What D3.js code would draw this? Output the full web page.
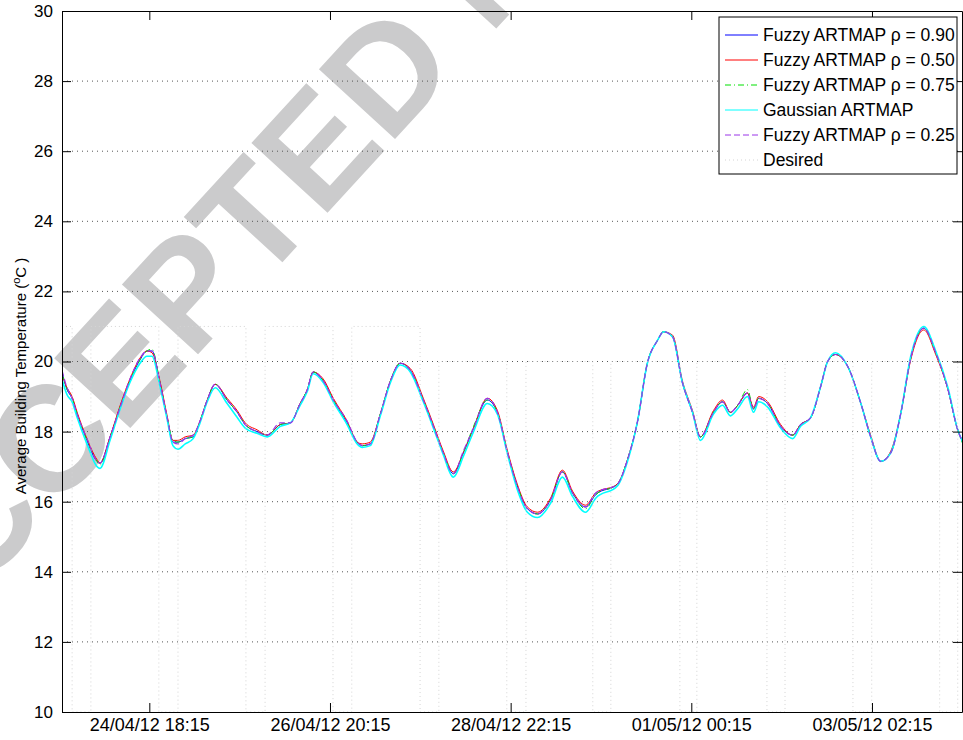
<!DOCTYPE html>
<html>
<head>
<meta charset="utf-8">
<script src="https://cdn.jsdelivr.net/npm/d3@7"></script>
<style>
  body { margin: 0; background: #fff; }
  svg text { font-family: "Liberation Sans", Arial, Helvetica, sans-serif; }
</style>
</head>
<body>
<svg id="chart" width="963" height="740"></svg>
<script>
// hours since the start of the record (23/04/12 18:05)
var hours = [0, 1.4, 2.8, 4.2, 6.9, 9.7, 10.5, 13.3, 16.1, 18.8,
    21.6, 23.5, 24.9, 27.1, 29.1, 30.7, 32.1, 34.1, 36.3, 38.2,
    40.2, 42.4, 45.7, 48.5, 50.7, 54.0, 56.8, 60.4, 63.2, 65.9,
    67.9, 69.5, 72.3, 75.1, 78.9, 81.7, 83.1, 85.3, 88.1, 90.9,
    93.6, 96.4, 100.0, 102.8, 105.5, 108.3, 111.1, 113.9, 117.7, 120.5,
    123.3, 126.0, 128.8, 131.6, 135.2, 138.5, 141.3, 144.9, 147.7, 153.7,
    156.5, 159.3, 162.0, 164.8, 166.5, 169.0, 171.7, 174.5, 176.7, 180.3,
    182.8, 185.0, 187.0, 189.7, 191.4, 192.8, 195.3, 198.9, 202.2, 204.4,
    207.2, 210.0, 211.9, 214.1, 217.5, 221.1, 223.8, 226.6, 229.4, 232.1,
    234.9, 238.5, 241.8, 245.2, 247.9, 249.3];

var fuzzy090 = [19.7, 19.2, 18.95, 18.5, 17.75, 17.15, 17.1, 17.85, 18.7, 19.45,
    20.05, 20.3, 20.3, 19.4, 18.4, 17.7, 17.7, 17.8, 17.85, 18.3,
    18.9, 19.35, 18.9, 18.55, 18.2, 18.0, 17.9, 18.2, 18.25, 18.8,
    19.2, 19.7, 19.45, 18.9, 18.25, 17.7, 17.6, 17.65, 18.5, 19.45,
    19.95, 19.75, 18.9, 18.15, 17.4, 16.8, 17.4, 18.1, 18.9, 18.55,
    17.4, 16.45, 15.8, 15.65, 16.05, 16.85, 16.25, 15.85, 16.2, 16.5,
    17.2, 18.3, 19.95, 20.6, 20.85, 20.7, 19.4, 18.55, 17.85, 18.55,
    18.85, 18.55, 18.75, 19.1, 18.65, 18.95, 18.8, 18.15, 17.9, 18.2,
    18.4, 19.3, 20.0, 20.2, 19.85, 18.8, 17.85, 17.15, 17.4, 18.5,
    20.1, 20.95, 20.25, 19.2, 18.05, 17.7];

var fuzzy050 = [19.6, 19.25, 19.0, 18.55, 17.8, 17.2, 17.1, 17.85, 18.75, 19.5,
    20.1, 20.3, 20.25, 19.45, 18.45, 17.75, 17.75, 17.85, 17.9, 18.3,
    18.9, 19.35, 18.95, 18.6, 18.25, 18.05, 17.9, 18.2, 18.25, 18.8,
    19.2, 19.7, 19.5, 18.95, 18.3, 17.7, 17.65, 17.7, 18.5, 19.45,
    19.95, 19.8, 18.95, 18.2, 17.45, 16.85, 17.4, 18.1, 18.95, 18.6,
    17.45, 16.5, 15.85, 15.7, 16.1, 16.9, 16.3, 15.9, 16.25, 16.5,
    17.2, 18.3, 19.95, 20.6, 20.85, 20.75, 19.45, 18.6, 17.85, 18.6,
    18.9, 18.55, 18.75, 19.1, 18.7, 19.0, 18.85, 18.2, 17.9, 18.2,
    18.4, 19.3, 20.0, 20.2, 19.85, 18.8, 17.9, 17.15, 17.45, 18.5,
    20.05, 20.9, 20.2, 19.2, 18.05, 17.7];

var fuzzy075 = [19.65, 19.2, 18.95, 18.5, 17.75, 17.15, 17.05, 17.8, 18.7, 19.45,
    20.05, 20.3, 20.35, 19.4, 18.4, 17.75, 17.7, 17.8, 17.85, 18.3,
    18.9, 19.35, 18.9, 18.55, 18.2, 18.0, 17.9, 18.2, 18.25, 18.8,
    19.2, 19.7, 19.45, 18.9, 18.25, 17.7, 17.6, 17.65, 18.5, 19.45,
    19.95, 19.75, 18.9, 18.15, 17.4, 16.8, 17.4, 18.15, 18.9, 18.55,
    17.4, 16.45, 15.8, 15.65, 16.05, 16.85, 16.25, 15.8, 16.2, 16.5,
    17.2, 18.3, 19.95, 20.6, 20.85, 20.7, 19.4, 18.55, 17.85, 18.55,
    18.85, 18.55, 18.75, 19.2, 18.65, 18.95, 18.8, 18.15, 17.9, 18.2,
    18.4, 19.3, 20.0, 20.2, 19.85, 18.8, 17.85, 17.15, 17.4, 18.5,
    20.1, 20.95, 20.25, 19.2, 18.05, 17.65];

var gaussian = [19.5, 19.05, 18.85, 18.4, 17.65, 17.0, 16.95, 17.75, 18.65, 19.4,
    19.95, 20.15, 20.15, 19.3, 18.35, 17.6, 17.5, 17.65, 17.8, 18.25,
    18.85, 19.25, 18.8, 18.4, 18.1, 17.95, 17.85, 18.15, 18.25, 18.75,
    19.15, 19.65, 19.4, 18.85, 18.2, 17.65, 17.55, 17.6, 18.45, 19.4,
    19.9, 19.7, 18.85, 18.1, 17.35, 16.7, 17.3, 18.0, 18.8, 18.5,
    17.35, 16.35, 15.7, 15.55, 15.95, 16.7, 16.15, 15.7, 16.1, 16.45,
    17.15, 18.3, 19.95, 20.6, 20.85, 20.7, 19.4, 18.55, 17.75, 18.5,
    18.75, 18.45, 18.65, 19.0, 18.55, 18.85, 18.7, 18.1, 17.8, 18.15,
    18.4, 19.3, 20.0, 20.25, 19.85, 18.8, 17.85, 17.15, 17.4, 18.5,
    20.15, 21.0, 20.3, 19.25, 18.05, 17.7];

var fuzzy025 = [19.75, 19.25, 18.95, 18.5, 17.8, 17.15, 17.1, 17.85, 18.7, 19.5,
    20.1, 20.3, 20.3, 19.4, 18.4, 17.7, 17.65, 17.8, 17.9, 18.3,
    18.9, 19.35, 18.9, 18.55, 18.2, 18.0, 17.9, 18.25, 18.25, 18.8,
    19.2, 19.7, 19.45, 18.9, 18.3, 17.7, 17.6, 17.65, 18.5, 19.45,
    19.95, 19.75, 18.9, 18.15, 17.4, 16.8, 17.45, 18.1, 18.95, 18.55,
    17.4, 16.45, 15.8, 15.65, 16.05, 16.85, 16.25, 15.85, 16.25, 16.5,
    17.2, 18.3, 19.95, 20.6, 20.85, 20.7, 19.4, 18.55, 17.85, 18.55,
    18.85, 18.55, 18.75, 19.1, 18.65, 18.95, 18.8, 18.15, 17.9, 18.2,
    18.4, 19.3, 20.0, 20.2, 19.85, 18.8, 17.85, 17.15, 17.4, 18.5,
    20.1, 20.95, 20.25, 19.2, 18.05, 17.7];

// desired signal, step changes (hours since start -> temperature)
var desiredHours = [0, 2.8, 8.0, 26.8, 32.1, 50.9, 56.2, 75.0, 80.2, 99.1,
    104.3, 123.1, 128.4, 146.9, 151.9, 171.0, 175.7, 195.1, 200.1, 218.9,
    224.1, 242.9, 247.9, 249.3];
var desiredTemps = [21, 10, 21, 10, 21, 10, 21, 10, 21, 10,
    20, 10, 20, 10, 20, 10, 20, 10, 20, 10,
    20, 10, 20, 20];

var seriesNames = ['Fuzzy ARTMAP \u03C1 = 0.90', 'Fuzzy ARTMAP \u03C1 = 0.50',
    'Fuzzy ARTMAP \u03C1 = 0.75', 'Gaussian ARTMAP', 'Fuzzy ARTMAP \u03C1 = 0.25', 'Desired'];
var yTicks = [10, 12, 14, 16, 18, 20, 22, 24, 26, 28, 30];
var xTickLabels = ['24/04/12 18:15', '26/04/12 20:15', '28/04/12 22:15', '01/05/12 00:15', '03/05/12 02:15'];

var parseTick = d3.timeParse('%d/%m/%y %H:%M');
var startTime = parseTick('23/04/12 18:05');
var endTime = parseTick('04/05/12 03:10');

var svg = d3.select('#chart');
var margin = {left: 62, top: 11, right: 1, bottom: 28};
var W = 963, H = 740;

var x = d3.scaleTime().domain([startTime, endTime]).range([margin.left, W - margin.right]);
var y = d3.scaleLinear().domain([10, 30]).range([H - margin.bottom, margin.top]);

function hourToDate(h) {
    return new Date(startTime.getTime() + h * 3600 * 1000);
}

// watermark of the manuscript
svg.append('text')
    .attr('transform', 'translate(-96,675) rotate(-47.5)')
    .style('font-size', '150px')
    .style('font-weight', 'bold')
    .attr('fill', '#cbcbcc')
    .text('ACCEPTED MANUSCRIPT');

svg.append('clipPath').attr('id', 'plotClip')
    .append('rect')
    .attr('x', margin.left).attr('y', margin.top)
    .attr('width', W - margin.left - margin.right)
    .attr('height', H - margin.top - margin.bottom);

// horizontal dotted grid
svg.append('g').attr('class', 'grid')
    .selectAll('line')
    .data(yTicks.slice(1, -1))
    .enter().append('line')
    .attr('x1', margin.left).attr('x2', W - margin.right)
    .attr('y1', function(d){ return y(d); })
    .attr('y2', function(d){ return y(d); })
    .attr('stroke', '#555')
    .attr('stroke-width', 1)
    .attr('stroke-dasharray', '1,4');

var styles = [
    {color: '#0000ff', dash: null, width: 1},
    {color: '#ff0000', dash: null, width: 1},
    {color: '#00e000', dash: '6,3,1,3', width: 1},
    {color: '#00ffff', dash: null, width: 1.6},
    {color: '#9a35e8', dash: '6,3', width: 1.2},
    {color: '#d4d4d4', dash: '1,3', width: 1}
];

var seriesValues = [fuzzy090, fuzzy050, fuzzy075, gaussian, fuzzy025];

var line = d3.line()
    .curve(d3.curveMonotoneX)
    .x(function(d){ return x(hourToDate(d[0])); })
    .y(function(d){ return y(d[1]); });

var plot = svg.append('g').attr('clip-path', 'url(#plotClip)');

seriesValues.forEach(function(vals, i) {
    var pts = hours.map(function(h, j){ return [h, vals[j]]; });
    plot.append('path')
        .datum(pts)
        .attr('d', line)
        .attr('fill', 'none')
        .attr('stroke', styles[i].color)
        .attr('stroke-width', styles[i].width)
        .attr('stroke-dasharray', styles[i].dash);
});

var desiredLine = d3.line()
    .curve(d3.curveStepAfter)
    .x(function(d){ return x(hourToDate(d[0])); })
    .y(function(d){ return y(d[1]); });

plot.append('path')
    .datum(desiredHours.map(function(h, j){ return [h, desiredTemps[j]]; }))
    .attr('d', desiredLine)
    .attr('fill', 'none')
    .attr('stroke', styles[5].color)
    .attr('stroke-width', 1)
    .attr('stroke-dasharray', styles[5].dash);

// axes box and inward ticks
var xTickDates = xTickLabels.map(parseTick);

var xAxis = d3.axisBottom(x).tickValues(xTickDates)
    .tickFormat(d3.timeFormat('%d/%m/%y %H:%M'))
    .tickSizeInner(-9).tickSizeOuter(0).tickPadding(6);
var xTop = d3.axisTop(x).tickValues(xTickDates).tickFormat('')
    .tickSizeInner(-9).tickSizeOuter(0);
var yAxis = d3.axisLeft(y).tickValues(yTicks).tickFormat(d3.format('d'))
    .tickSizeInner(-9).tickSizeOuter(0).tickPadding(9);
var yRight = d3.axisRight(y).tickValues(yTicks).tickFormat('')
    .tickSizeInner(-9).tickSizeOuter(0);

function styleAxis(size) {
    return function(g) {
        g.selectAll('path').attr('stroke', '#000');
        g.selectAll('line').attr('stroke', '#000');
        g.selectAll('text').style('font-size', size).attr('fill', '#000');
    };
}

svg.append('g').attr('transform', 'translate(0,' + (H - margin.bottom) + ')').call(xAxis).call(styleAxis('18px'));
svg.append('g').attr('transform', 'translate(0,' + margin.top + ')').call(xTop).call(styleAxis('17px'));
svg.append('g').attr('transform', 'translate(' + margin.left + ',0)').call(yAxis).call(styleAxis('17px'));
svg.append('g').attr('transform', 'translate(' + (W - margin.right) + ',0)').call(yRight).call(styleAxis('17px'));

// y label
var ylab = svg.append('text')
    .attr('transform', 'translate(26,376) rotate(-90)')
    .attr('text-anchor', 'middle')
    .style('font-size', '15px');
ylab.append('tspan').text('Average Building Temperature (');
ylab.append('tspan').attr('dy', -6).style('font-size', '11px').text('o');
ylab.append('tspan').attr('dy', 6).text('C )');

// legend
var legend = svg.append('g');
legend.append('rect')
    .attr('x', 719).attr('y', 17).attr('width', 238).attr('height', 157)
    .attr('fill', '#fff').attr('stroke', '#000').attr('stroke-width', 1);

var rows = legend.selectAll('.row')
    .data(seriesNames)
    .enter().append('g')
    .attr('class', 'row')
    .attr('transform', function(d, i){ return 'translate(0,' + (35 + i * 25) + ')'; });

rows.append('line')
    .attr('x1', 725).attr('x2', 758)
    .attr('stroke', function(d, i){ return styles[i].color; })
    .attr('stroke-width', 1)
    .attr('stroke-dasharray', function(d, i){ return styles[i].dash; });

rows.append('text')
    .attr('x', 763).attr('dy', '0.36em')
    .style('font-size', '17.5px')
    .text(function(d){ return d; });
</script>
</body>
</html>
